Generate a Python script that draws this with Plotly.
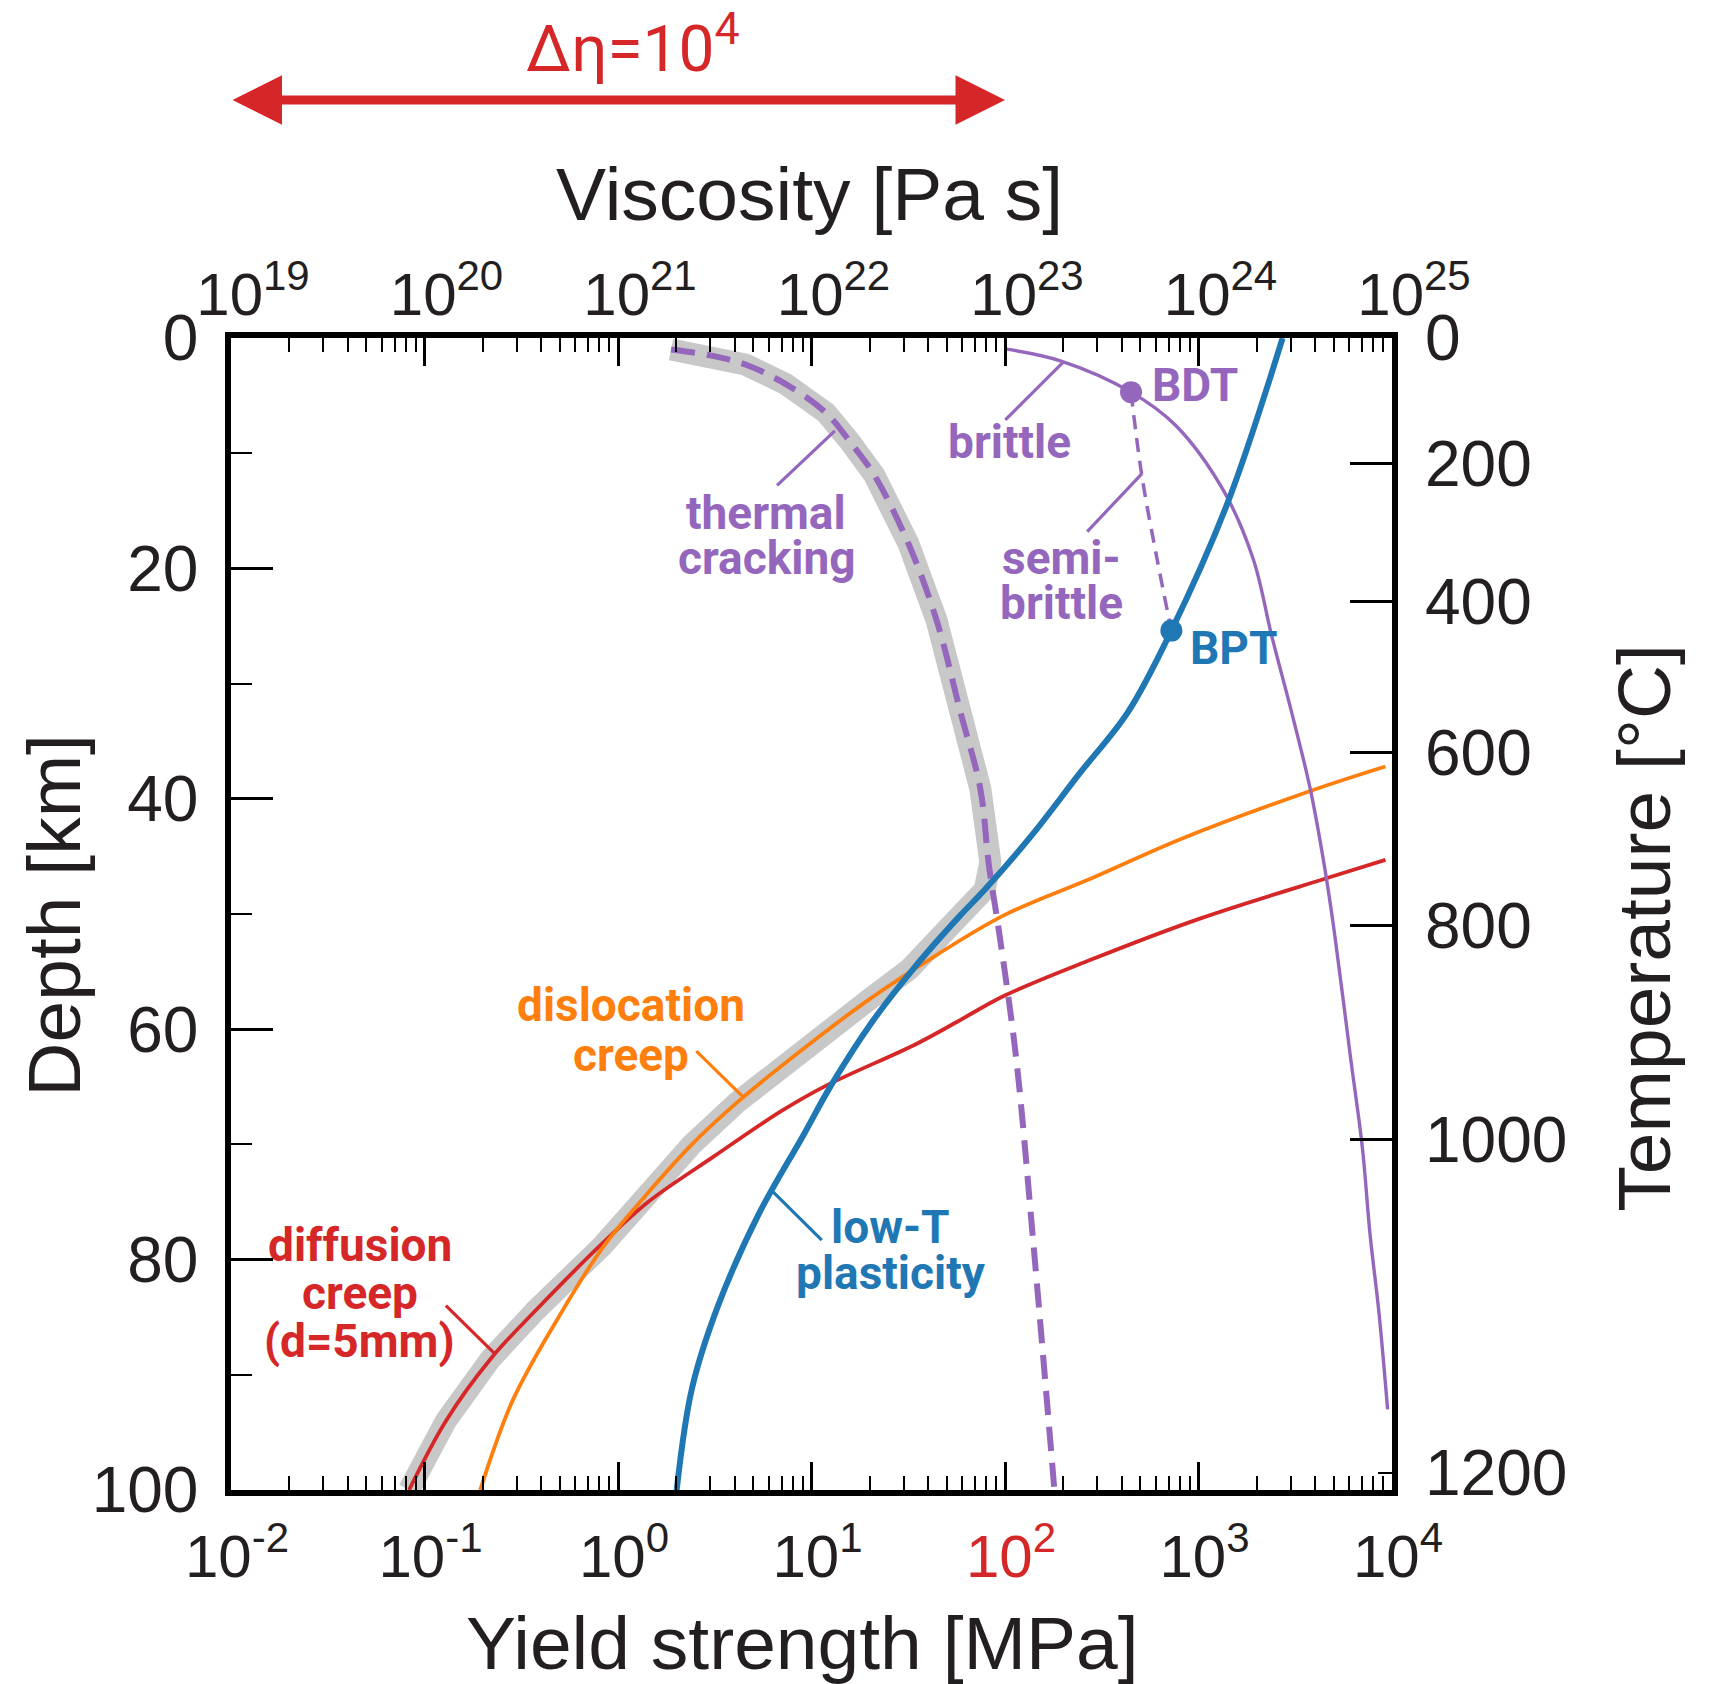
import plotly.graph_objects as go

# ---------------- data ----------------
# low-T plasticity (blue)
depth_lowT = [0, 14.2, 25.4, 32.5, 37.8, 43.2, 47.9, 50.1, 54.5, 59.5, 64.9, 69.2, 76.1, 84.0, 91.2, 100]
sigma_lowT = [2720, 1422, 724, 431, 243, 137, 78.5, 58.9, 34.6, 20.3, 12.6, 9.08, 5.32, 3.29, 2.41, 2.01]

# dislocation creep (orange)
depth_disl = [37.2, 39.3, 43.4, 46.9, 50.1, 53.5, 57.3, 61.7, 66.4, 70.0, 74.2, 79.0, 85.0, 92.2, 100]
sigma_disl = [9250, 3820, 836, 280, 99.1, 44.9, 20.3, 9.08, 4.10, 2.41, 1.43, 0.830, 0.493, 0.286, 0.194]

# diffusion creep, d = 5 mm (red)
depth_diff = [45.3, 46.9, 50.4, 54.0, 57.1, 59.4, 61.3, 64.9, 67.1, 71.0, 75.0, 78.6, 84.4, 88.6, 94.0, 100]
sigma_diff = [9250, 4580, 1016, 275, 99.1, 56, 34.6, 11.9, 7.00, 3.16, 1.43, 0.830, 0.376, 0.220, 0.129, 0.0832]

# brittle (purple solid)
depth_brittle = [0.95, 2.0, 4.7, 7.6, 13.3, 19.2, 25.9, 32.5, 39.1, 45.8, 51.4, 62.4, 70.3, 77.9, 84.5, 93.0]
sigma_brittle = [100, 195, 448, 763, 1352, 1919, 2393, 3030, 3775, 4470, 5020, 6100, 7030, 7710, 8550, 9490]

# thermal cracking (purple dashed)
depth_tc = [1.0, 1.5, 2.3, 4.0, 6.5, 9.0, 11.9, 17.8, 24.5, 32.5, 39.1, 45.8, 51.4, 62.4, 77.9, 100]
sigma_tc = [1.88, 2.97, 4.55, 7.36, 11.9, 15.8, 21.1, 31.6, 44.3, 58.9, 74.5, 82.6, 92.9, 114, 139, 180]

# semi-brittle (purple thin dashed), BDT -> BPT
depth_semi = [4.7, 11.9, 19.2, 25.4]
sigma_semi = [448, 509, 611, 724]

# effective strength envelope (grey)
depth_eff = [1.0, 1.5, 2.3, 4.0, 6.5, 9.0, 11.9, 17.8, 24.5, 32.5, 39.1, 45.5, 47.9, 50.1, 54.8, 57.3,
             61.7, 66.4, 70.0, 74.2, 78.8, 84.4, 88.6, 94.0, 100]
sigma_eff = [1.88, 2.97, 4.55, 7.36, 11.9, 15.8, 21.1, 31.6, 44.3, 58.9, 74.5, 84, 78.5, 58.9, 32, 20.3,
             9.08, 4.10, 2.41, 1.43, 0.83, 0.376, 0.220, 0.129, 0.0832]

# transition points
bdt_depth, bdt_sigma = [4.7], [448]
bpt_depth, bpt_sigma = [25.4], [724]

# label leader lines: [sigma_start, sigma_end], [depth_start, depth_end]
lead_tc = ([6.64, 13.2], [12.8, 8.06])
lead_brittle = ([100.4, 200], [7.1, 2.1])
lead_semi = ([266, 509], [16.8, 11.8])
lead_disl = ([2.54, 4.44], [61.9, 65.9])
lead_lowT = ([11.3, 6.31], [78.3, 74.1])
lead_diff = ([0.129, 0.232], [84.0, 88.2])

# axis ticks
strength_ticks = [1e-2, 1e-1, 1e0, 1e1, 1e2, 1e3, 1e4]
strength_exp = ["-2", "-1", "0", "1", "2", "3", "4"]
visc_ticks = [1e19, 1e20, 1e21, 1e22, 1e23, 1e24, 1e25]
visc_exp = ["19", "20", "21", "22", "23", "24", "25"]
depth_ticks = [0, 20, 40, 60, 80, 100]
depth_minor = [10, 30, 50, 70, 90]
temp_labels = [0, 200, 400, 600, 800, 1000, 1200]
temp_depth = [0, 10.9, 22.9, 36.0, 51.0, 69.6, 98.5]

# ---------------- style ----------------
BLUE = "#1f77b4"
ORANGE = "#ff7f0e"
RED = "#d62728"
PURPLE = "#9467bd"
GREY = "#c8c8c8"
INK = "#231f20"
FONT = "Liberation Sans, Arial, Helvetica, sans-serif"
LABEL = "Roboto, Liberation Sans, sans-serif"

fig = go.Figure()

def line(x, y, color, width, dash="solid", shape="spline"):
    fig.add_trace(go.Scatter(x=x, y=y, mode="lines",
                             line=dict(color=color, width=width, dash=dash, shape=shape, smoothing=1.0),
                             hoverinfo="skip", showlegend=False))

line(sigma_eff, depth_eff, GREY, 22, shape="linear")
line(sigma_diff, depth_diff, RED, 3.8)
line(sigma_disl, depth_disl, ORANGE, 3.8)
line(sigma_brittle, depth_brittle, PURPLE, 3.4)
line(sigma_semi, depth_semi, PURPLE, 3.5, dash="14px,9px")
line(sigma_tc, depth_tc, PURPLE, 6, dash="24px,12px")
line(sigma_lowT, depth_lowT, BLUE, 6)

for (lx, ly), c in [(lead_tc, PURPLE), (lead_brittle, PURPLE), (lead_semi, PURPLE),
                    (lead_disl, ORANGE), (lead_lowT, BLUE), (lead_diff, RED)]:
    line(lx, ly, c, 3.2, shape="linear")

fig.add_trace(go.Scatter(x=bdt_sigma, y=bdt_depth, mode="markers",
                         marker=dict(color=PURPLE, size=22), hoverinfo="skip", showlegend=False))
fig.add_trace(go.Scatter(x=bpt_sigma, y=bpt_depth, mode="markers",
                         marker=dict(color=BLUE, size=22), hoverinfo="skip", showlegend=False))

# invisible anchors for the secondary axes
fig.add_trace(go.Scatter(x=visc_ticks, y=[None] * len(visc_ticks), xaxis="x2", yaxis="y2",
                         mode="markers", marker=dict(opacity=0), hoverinfo="skip", showlegend=False))
fig.add_trace(go.Scatter(x=[None] * len(temp_depth), y=temp_depth, xaxis="x", yaxis="y3",
                         mode="markers", marker=dict(opacity=0), hoverinfo="skip", showlegend=False))

xtickfont = dict(family=FONT, size=60, color=INK)
ytickfont = dict(family=FONT, size=64, color=INK)

strength_text = []
for v, e in zip(strength_ticks, strength_exp):
    t = "10<sup>%s</sup>" % e
    if v == 1e2:
        t = "<span style='color:%s'>%s</span>" % (RED, t)
    strength_text.append(t)
visc_text = ["10<sup>%s</sup>" % e for e in visc_exp]

minor_x = [m * 10.0 ** k for k in range(-2, 4) for m in range(2, 10)]
minor_x2 = [m * 10.0 ** k for k in range(19, 25) for m in range(2, 10)]

fig.update_layout(
    width=1712, height=1684,
    margin=dict(l=231, r=320, t=338, b=194),
    paper_bgcolor="white", plot_bgcolor="white",
    showlegend=False,
    xaxis=dict(type="log", range=[-2, 4], tickmode="array", tickvals=strength_ticks, ticktext=strength_text,
               ticks="inside", ticklen=28, tickwidth=2.5, tickcolor="black",
               showline=True, linewidth=5.5, linecolor="black", mirror=True,
               showgrid=False, zeroline=False, tickfont=xtickfont,
               ticklabelstandoff=9, ticklabelshift=6,
               minor=dict(ticks="inside", ticklen=14, tickwidth=2, tickcolor="black",
                          tickmode="array", tickvals=minor_x, showgrid=False)),
    xaxis2=dict(type="log", range=[19, 25], overlaying="x", side="top", anchor="y",
                tickmode="array", tickvals=visc_ticks, ticktext=visc_text,
                ticks="inside", ticklen=28, tickwidth=2.5, tickcolor="black",
                showline=False, showgrid=False, zeroline=False, tickfont=xtickfont,
                ticklabelstandoff=10, ticklabelshift=22,
                minor=dict(ticks="inside", ticklen=14, tickwidth=2, tickcolor="black",
                           tickmode="array", tickvals=minor_x2, showgrid=False)),
    yaxis=dict(range=[100, 0], tickmode="array", tickvals=depth_ticks, ticktext=[str(v) for v in depth_ticks],
               ticks="inside", ticklen=42, tickwidth=2.5, tickcolor="black",
               showline=True, linewidth=5.5, linecolor="black", mirror=True,
               showgrid=False, zeroline=False, tickfont=ytickfont, ticklabelstandoff=14,
               minor=dict(ticks="inside", ticklen=21, tickwidth=2, tickcolor="black",
                          tickmode="array", tickvals=depth_minor, showgrid=False)),
    yaxis2=dict(range=[100, 0], overlaying="y", side="right", anchor="x",
                tickmode="array", tickvals=temp_depth, ticktext=[str(v) for v in temp_labels],
                ticks="", showline=False, showgrid=False, zeroline=False,
                tickfont=ytickfont, ticklabelstandoff=32),
    yaxis3=dict(range=[100, 0], overlaying="y", side="right", anchor="x",
                tickmode="array", tickvals=temp_depth[1:6], showticklabels=False,
                ticks="inside", ticklen=42, tickwidth=2.5, tickcolor="black",
                showline=False, showgrid=False, zeroline=False,
                minor=dict(ticks="inside", ticklen=14, tickwidth=2, tickcolor="black",
                           tickmode="array", tickvals=temp_depth[6:], showgrid=False)),
)

ann = []
title_font = dict(family=FONT, size=75, color=INK)
ann.append(dict(text="Viscosity [Pa s]", x=0.498, y=1.125, xref="paper", yref="paper",
                showarrow=False, font=title_font, xanchor="center", yanchor="middle"))
ann.append(dict(text="Yield strength [MPa]", x=0.492, y=-0.133, xref="paper", yref="paper",
                showarrow=False, font=title_font, xanchor="center", yanchor="middle"))
ann.append(dict(text="Depth [km]", x=-0.152, y=0.499, xref="paper", yref="paper", textangle=-90,
                showarrow=False, font=title_font, xanchor="center", yanchor="middle"))
ann.append(dict(text="Temperature [°C]", x=1.217, y=0.488, xref="paper", yref="paper", textangle=-90,
                showarrow=False, font=title_font, xanchor="center", yanchor="middle"))

# delta-eta arrow on the viscosity scale
ann.append(dict(text="", x=23, y=1.2066, xref="x2", yref="paper", ax=19, ay=0, axref="x2", ayref="pixel",
                showarrow=True, arrowside="end+start", arrowhead=2, startarrowhead=2,
                arrowsize=1.1, startarrowsize=1.1, arrowwidth=9, arrowcolor=RED, standoff=0, startstandoff=0))
ann.append(dict(text="Δη=10<sup>4</sup>", x=0.346, y=1.2545, xref="paper", yref="paper", showarrow=False,
                font=dict(family=LABEL, size=64, color=RED), xanchor="center", yanchor="middle"))

# curve labels (x in log10 MPa, y in km)
labels = [
    ("thermal", 0.766, 15.2, PURPLE), ("cracking", 0.766, 19.1, PURPLE),
    ("brittle", 2.024, 9.0, PURPLE), ("BDT", 2.984, 4.1, PURPLE),
    ("semi-", 2.290, 19.1, PURPLE), ("brittle", 2.290, 23.0, PURPLE),
    ("BPT", 3.181, 26.9, BLUE),
    ("dislocation", 0.066, 57.9, ORANGE), ("creep", 0.066, 62.2, ORANGE),
    ("low-T", 1.409, 77.2, BLUE), ("plasticity", 1.409, 81.2, BLUE),
    ("diffusion", -1.334, 78.7, RED), ("creep", -1.334, 82.9, RED), ("(d=5mm)", -1.334, 87.1, RED),
]
for t, lx, ly, c in labels:
    ann.append(dict(text=t, x=lx, y=ly, xref="x", yref="y", showarrow=False,
                    font=dict(family=LABEL, size=46, color=c, weight="bold"),
                    xanchor="center", yanchor="middle"))

fig.update_layout(annotations=ann)
fig.write_html("out.html")
